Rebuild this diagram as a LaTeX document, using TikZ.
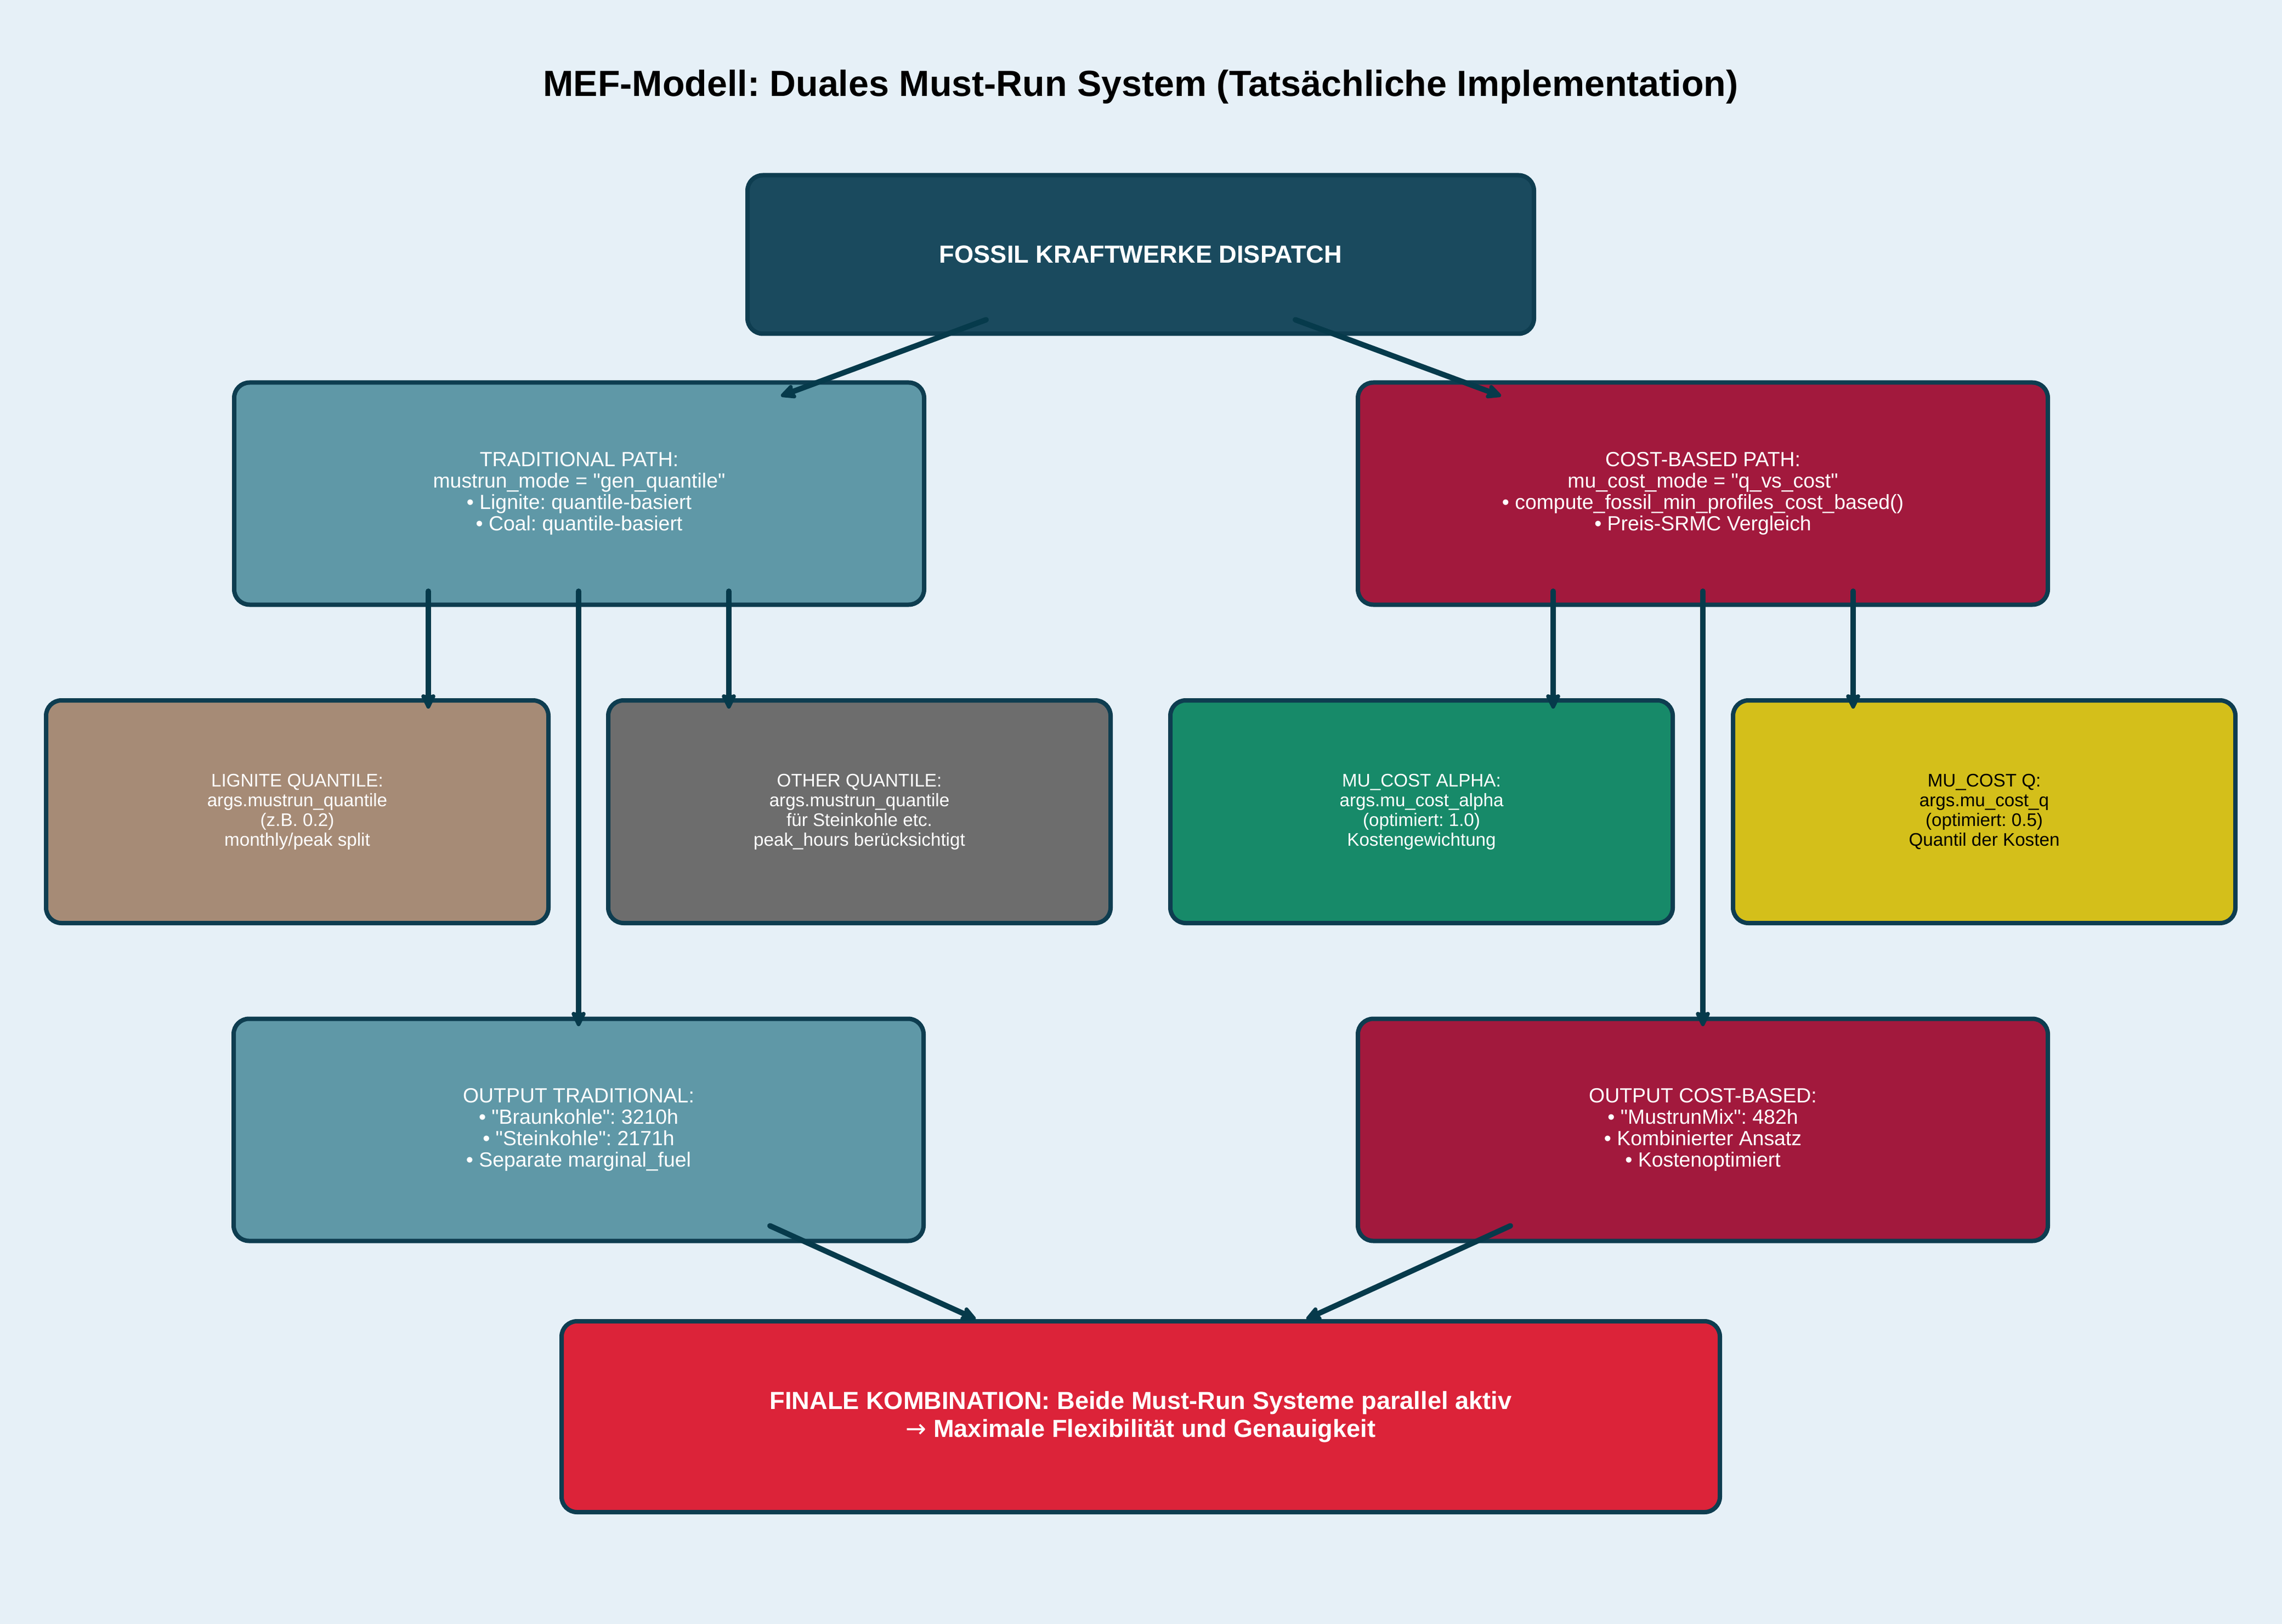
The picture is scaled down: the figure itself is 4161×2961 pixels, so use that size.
\documentclass[tikz,border=0pt]{standalone}
\usepackage{fontspec}
\setmainfont{Liberation Sans}[Ligatures=TeXOff]
\newfontfamily\dejavu{DejaVu Sans}
\usetikzlibrary{arrows.meta,calc}
\frenchspacing
\definecolor{bg}{HTML}{E6F0F7}
\definecolor{bordc}{HTML}{0E3D50}
\definecolor{arrc}{HTML}{063A4B}
\definecolor{topc}{HTML}{1A4A5E}
\definecolor{tradc}{HTML}{5F98A7}
\definecolor{costc}{HTML}{A2193D}
\definecolor{ligc}{HTML}{A68B76}
\definecolor{othc}{HTML}{6D6D6D}
\definecolor{alphac}{HTML}{178A69}
\definecolor{qc}{HTML}{D4BF1A}
\definecolor{finc}{HTML}{DC2339}
\begin{document}
\frenchspacing
\begin{tikzpicture}[x=0.25pt,y=-0.25pt,
  box/.style={draw=bordc, line width=2pt, rounded corners=7pt, inner sep=0pt, align=center, text=white},
  bigbox/.style={box, minimum width=314.5pt, minimum height=101.25pt, font=\fontsize{9.35}{9.8}\selectfont},
  smallbox/.style={box, minimum width=229pt, minimum height=101.5pt, font=\fontsize{8.3}{9}\selectfont},
  boldbox/.style={box, font=\fontsize{11.3}{12.8}\selectfont\bfseries},
  conn/.style={draw=arrc, line width=2.5pt, line cap=round, -{Stealth[length=8pt,width=7.5pt,inset=1pt,round]}}
]
\fill[bg] (0,0) rectangle (4161,2961);
\useasboundingbox (0,0) rectangle (4161,2961);

\node[font=\fontsize{16.6}{20}\selectfont\bfseries, anchor=base, inner sep=0pt] (title) at (2080,176)
  {MEF-Modell: Duales Must-Run System (Tatsächliche Implementation)};

\node[boldbox, fill=topc, minimum width=358.5pt, minimum height=72.25pt] (top) at (2080,464)
  {FOSSIL KRAFTWERKE DISPATCH};

\node[bigbox, fill=tradc] (trad) at (1056,900)
  {TRADITIONAL PATH:\\ mustrun\_mode = "gen\_quantile"\\ • Lignite: quantile-basiert\\ • Coal: quantile-basiert};
\node[bigbox, fill=costc] (cost) at (3105,900)
  {COST-BASED PATH:\\ mu\_cost\_mode = "q\_vs\_cost"\\ • compute\_fossil\_min\_profiles\_cost\_based()\\ • Preis-SRMC Vergleich};

\node[smallbox, fill=ligc] (lig) at (542,1480)
  {LIGNITE QUANTILE:\\ args.mustrun\_quantile\\ (z.B. 0.2)\\ monthly/peak split};
\node[smallbox, fill=othc] (oth) at (1567,1480)
  {OTHER QUANTILE:\\ args.mustrun\_quantile\\ für Steinkohle etc.\\ peak\_hours berücksichtigt};
\node[smallbox, fill=alphac] (alpha) at (2592,1480)
  {MU\_COST ALPHA:\\ args.mu\_cost\_alpha\\ (optimiert: 1.0)\\ Kostengewichtung};
\node[smallbox, fill=qc, text=black] (qbox) at (3618,1480)
  {MU\_COST Q:\\ args.mu\_cost\_q\\ (optimiert: 0.5)\\ Quantil der Kosten};

\node[bigbox, fill=tradc] (out1) at (1055,2060)
  {OUTPUT TRADITIONAL:\\ • "Braunkohle": 3210h\\ • "Steinkohle": 2171h\\ • Separate marginal\_fuel};
\node[bigbox, fill=costc] (out2) at (3105,2060)
  {OUTPUT COST-BASED:\\ • "MustrunMix": 482h\\ • Kombinierter Ansatz\\ • Kostenoptimiert};

\node[boldbox, fill=finc, minimum width=528pt, minimum height=87pt] (fin) at (2080,2583)
  {FINALE KOMBINATION: Beide Must-Run Systeme parallel aktiv\\ {\dejavu\mdseries →} Maximale Flexibilität und Genauigkeit};

\draw[conn] ($(top.center)+(-282,119)$) -- ($(trad.center)+(368,-178)$);
\draw[conn] ($(top.center)+(282,119)$) -- ($(cost.center)+(-368,-178)$);

\draw[conn] ($(trad.center)+(-275,178)$) -- ($(lig.center)+(239,-188)$);
\draw[conn] ($(trad.center)+(273,178)$) -- ($(oth.center)+(-238,-188)$);
\draw[conn] ($(trad.center)+(-1,178)$) -- ($(out1.center)+(0,-189)$);

\draw[conn] ($(cost.center)+(-273,178)$) -- ($(alpha.center)+(240,-188)$);
\draw[conn] ($(cost.center)+(274,178)$) -- ($(qbox.center)+(-239,-188)$);
\draw[conn] ($(cost.center)+(0,178)$) -- ($(out2.center)+(0,-189)$);

\draw[conn] ($(out1.center)+(349,175)$) -- ($(fin.center)+(-301,-178)$);
\draw[conn] ($(out2.center)+(-351,175)$) -- ($(fin.center)+(302,-178)$);
\end{tikzpicture}
\end{document}
